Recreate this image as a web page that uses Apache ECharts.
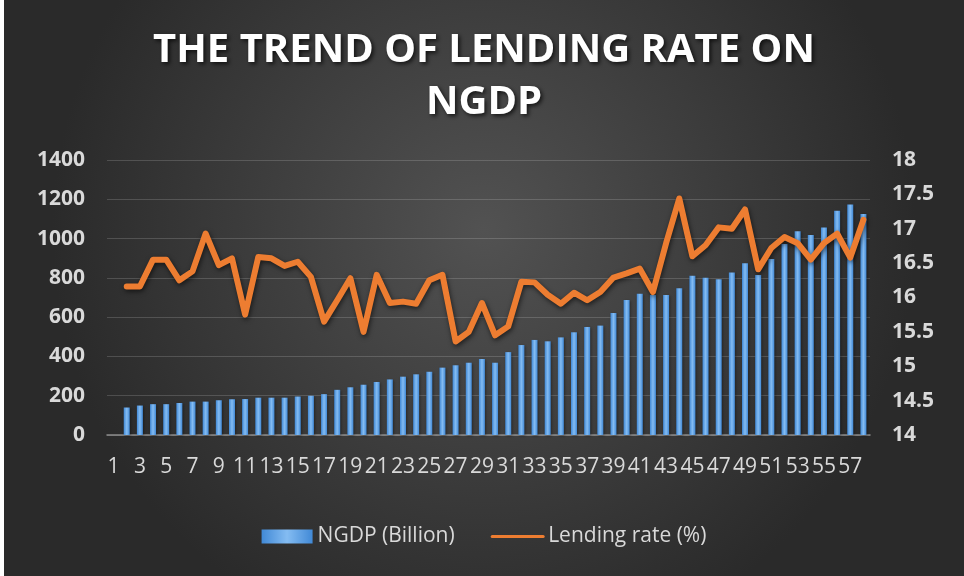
<!DOCTYPE html>
<html>
<head>
<meta charset="utf-8">
<script src="https://cdn.jsdelivr.net/npm/echarts@6/dist/echarts.min.js"></script>
<style>
html,body{margin:0;padding:0;background:#ffffff;}
#chart{position:absolute;left:4px;top:0;width:960px;height:576px;}
</style>
</head>
<body>
<div id="chart"></div>
<script>
const categories = ['1','2','3','4','5','6','7','8','9','10','11','12','13','14','15','16','17','18','19','20','21','22','23','24','25','26','27','28','29','30','31','32','33','34','35','36','37','38','39','40','41','42','43','44','45','46','47','48','49','50','51','52','53','54','55','56','57','58'];
const ngdp = [null,140,150,157,157,163,170,170,177,182,183,190,190,190,196,200,208,230,243,256,270,283,297,309,322,343,355,368,387,368,422,458,484,477,497,523,550,557,621,687,719,713,713,747,811,800,793,827,874,815,896,973,1037,1018,1057,1142,1173,1125];
const lendingRate = [null,16.16,16.16,16.55,16.55,16.25,16.38,16.93,16.47,16.57,15.75,16.59,16.57,16.46,16.52,16.30,15.65,15.96,16.28,15.50,16.33,15.92,15.94,15.91,16.25,16.33,15.36,15.50,15.92,15.45,15.58,16.23,16.22,16.04,15.91,16.07,15.96,16.08,16.29,16.35,16.42,16.08,16.79,17.44,16.60,16.76,17.02,17.00,17.28,16.41,16.72,16.88,16.79,16.55,16.79,16.93,16.58,17.13];
const leftTicks = {min:0, max:1400, interval:200};
const rightTicks = {min:14, max:18, interval:0.5};

const chart = echarts.init(document.getElementById('chart'), null, {renderer:'canvas'});
const FONT = "'Open Sans', 'Noto Sans', sans-serif";
chart.setOption({
  backgroundColor: new echarts.graphic.RadialGradient(0.5, 0.4, 0.75, [
    {offset:0, color:'#525252'},
    {offset:1, color:'#2a2a2a'}
  ]),
  animation:false,
  title:{
    text:'THE TREND OF LENDING RATE ON\nNGDP',
    left:'center', top:20,
    textStyle:{color:'#ffffff', fontFamily:FONT, fontWeight:'bold', fontSize:40, lineHeight:52,
      textShadowColor:'rgba(0,0,0,0.7)', textShadowBlur:4, textShadowOffsetX:2, textShadowOffsetY:2}
  },
  legend:{
    bottom:24, left:'center', itemGap:36, itemWidth:51, itemHeight:14,
    textStyle:{color:'#d9d9d9', fontFamily:FONT, fontSize:21},
    data:[
      {name:'NGDP (Billion)', icon:'rect'},
      {name:'Lending rate (%)', lineStyle:{width:3}, itemStyle:{opacity:0}}
    ]
  },
  grid:{left:103, right:94, top:160, bottom:141},
  xAxis:{
    type:'category', data:categories,
    axisTick:{show:false},
    axisLine:{lineStyle:{color:'#8c8c8c', width:1.5}},
    axisLabel:{interval:1, color:'#d9d9d9', fontFamily:FONT, fontSize:21, margin:22}
  },
  yAxis:[
    {type:'value', min:leftTicks.min, max:leftTicks.max, interval:leftTicks.interval,
     axisLine:{show:false}, axisTick:{show:false},
     splitLine:{lineStyle:{color:'rgba(255,255,255,0.16)', width:1}},
     axisLabel:{color:'#d9d9d9', fontFamily:FONT, fontWeight:'bold', fontSize:21, margin:22,
       formatter:function(v){return String(v);}}},
    {type:'value', min:rightTicks.min, max:rightTicks.max, interval:rightTicks.interval,
     axisLine:{show:false}, axisTick:{show:false}, splitLine:{show:false},
     axisLabel:{color:'#d9d9d9', fontFamily:FONT, fontWeight:'bold', fontSize:21, margin:22,
       formatter:function(v){return String(v);}}}
  ],
  series:[
    {name:'NGDP (Billion)', type:'bar', yAxisIndex:0, data:ngdp, barWidth:6,
     itemStyle:{
       color:new echarts.graphic.LinearGradient(0,0,1,0,[
         {offset:0, color:'#4189d6'},
         {offset:0.5, color:'#84bcf2'},
         {offset:1, color:'#4189d6'}
       ]),
       shadowColor:'rgba(0,0,0,0.4)', shadowBlur:3, shadowOffsetX:1, shadowOffsetY:1
     }},
    {name:'Lending rate (%)', type:'line', yAxisIndex:1, data:lendingRate,
     symbol:'none', connectNulls:false,
     itemStyle:{color:'#ed7d31'},
     lineStyle:{color:'#ed7d31', width:6, join:'round', cap:'round',
       shadowColor:'rgba(0,0,0,0.6)', shadowBlur:5, shadowOffsetX:1, shadowOffsetY:2}}
  ]
});
</script>
</body>
</html>
